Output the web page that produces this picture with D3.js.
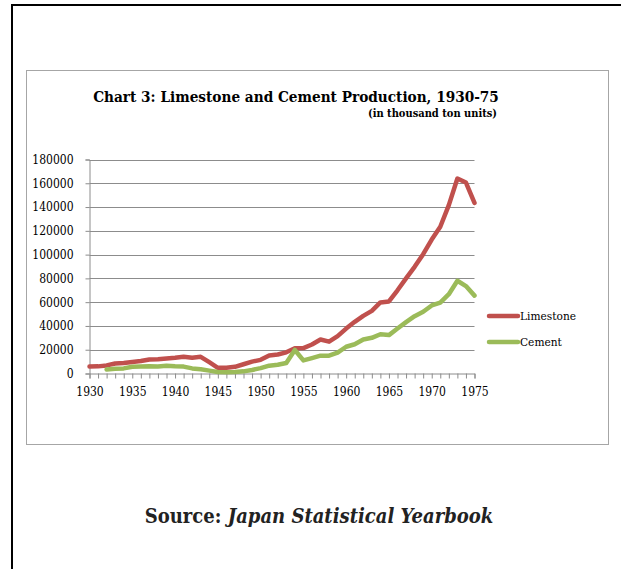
<!DOCTYPE html>
<html>
<head>
<meta charset="utf-8">
<script src="https://cdn.jsdelivr.net/npm/d3@7"></script>
<style>
  html, body { margin: 0; padding: 0; background: #fff; }
  svg { display: block; }
  .serif { font-family: "DejaVu Serif Condensed", "DejaVu Serif", serif; font-stretch: condensed; }
</style>
</head>
<body>
<script>
const years = d3.range(1930, 1976);
const yearLabels = [1930, 1935, 1940, 1945, 1950, 1955, 1960, 1965, 1970, 1975];
const yTicks = [0, 20000, 40000, 60000, 80000, 100000, 120000, 140000, 160000, 180000];
const limestone = [5900, 6000, 6800, 8400, 8800, 9600, 10500, 11800, 12000, 12600,
  13200, 14000, 13200, 14000, 9500, 4800, 4900, 5600, 7800, 10000,
  11500, 15200, 16000, 17800, 21200, 21400, 24400, 28600, 26800, 31400,
  37800, 43500, 48500, 52700, 59800, 60600, 70000, 80000, 89700, 100400,
  112700, 123400, 141600, 164000, 160600, 143500];
const cement = [null, null, 3400, 4000, 4300, 5700, 5800, 6000, 5900, 6600,
  6000, 5800, 4300, 3600, 2400, 1200, 1000, 1200, 1800, 3000,
  4500, 6600, 7300, 8800, 19800, 11000, 13000, 15000, 15000, 17500,
  22500, 24600, 28600, 30000, 33000, 32300, 37800, 43200, 48200, 51900,
  57200, 59700, 66700, 78000, 73500, 65500];
const seriesNames = ["Limestone", "Cement"];
const seriesColors = ["#C0504D", "#9BBB59"];
const titleText = "Chart 3: Limestone and Cement Production, 1930-75";
const subtitleText = "(in thousand ton units)";

const W = 621, H = 569;
const svg = d3.select("body").append("svg").attr("width", W).attr("height", H);

// page border fragments
svg.append("line").attr("x1", 11).attr("x2", W).attr("y1", 5).attr("y2", 5)
  .attr("stroke", "#000").attr("stroke-width", 2);
svg.append("line").attr("x1", 12).attr("x2", 12).attr("y1", 4).attr("y2", H)
  .attr("stroke", "#000").attr("stroke-width", 2);

// chart box
svg.append("rect").attr("x", 26.5).attr("y", 70.5).attr("width", 582).attr("height", 374)
  .attr("fill", "#fff").attr("stroke", "#a6a6a6").attr("stroke-width", 1);

// title
svg.append("text").attr("class", "serif").attr("x", 296).attr("y", 102)
  .attr("text-anchor", "middle").attr("font-weight", "bold").attr("font-size", 15.2)
  .attr("fill", "#000").text(titleText);
svg.append("text").attr("class", "serif").attr("x", 497).attr("y", 117)
  .attr("text-anchor", "end").attr("font-weight", "bold").attr("font-size", 11)
  .attr("fill", "#000").text(subtitleText);

const x = d3.scaleLinear().domain([1930, 1975]).range([89.5, 474.5]);
const y = d3.scaleLinear().domain([0, 180000]).range([373.5, 159.5]);

// gridlines
svg.append("g").selectAll("line").data(yTicks.filter(d => d > 0)).join("line")
  .attr("x1", x(1930)).attr("x2", x(1975))
  .attr("y1", d => Math.round(y(d)) + 0.5).attr("y2", d => Math.round(y(d)) + 0.5)
  .attr("stroke", "#8c8c8c").attr("stroke-width", 1);

// y axis
const yAxis = svg.append("g").attr("transform", `translate(${x(1930)},0)`)
  .call(d3.axisLeft(y).tickValues(yTicks).tickSize(4).tickPadding(12).tickFormat(d3.format("d")));
yAxis.select(".domain").attr("stroke", "#8c8c8c");
yAxis.selectAll(".tick line").attr("stroke", "#8c8c8c");
yAxis.selectAll("text").attr("class", "serif").attr("font-size", 12).attr("fill", "#000");

// x axis
const xAxis = svg.append("g").attr("transform", `translate(0,${y(0)})`)
  .call(d3.axisBottom(x).tickValues(years).tickSize(5).tickPadding(9)
    .tickFormat(d => yearLabels.includes(d) ? d : ""));
xAxis.select(".domain").attr("stroke", "#8c8c8c");
xAxis.selectAll(".tick line").attr("stroke", "#8c8c8c");
xAxis.selectAll("text").attr("class", "serif").attr("font-size", 12).attr("fill", "#000");

// lines
const seriesData = [limestone, cement];
const line = d3.line().defined(d => d[1] !== null).x(d => x(d[0])).y(d => y(d[1]));
seriesData.forEach((vals, i) => {
  svg.append("path").datum(years.map((yr, j) => [yr, vals[j]]))
    .attr("fill", "none").attr("stroke", seriesColors[i]).attr("stroke-width", 4.5)
    .attr("stroke-linejoin", "round").attr("stroke-linecap", "round")
    .attr("d", line);
});

// legend
const lg = svg.append("g");
seriesNames.forEach((n, i) => {
  const ly = 316 + i * 26;
  lg.append("line").attr("x1", 489).attr("x2", 518).attr("y1", ly).attr("y2", ly)
    .attr("stroke", seriesColors[i]).attr("stroke-width", 4.5).attr("stroke-linecap", "round");
  lg.append("text").attr("class", "serif").attr("x", 520).attr("y", ly + 4)
    .attr("font-size", 11.8).attr("fill", "#000").text(n);
});

// source
const src = svg.append("text").attr("class", "serif").attr("x", 319).attr("y", 523)
  .attr("text-anchor", "middle").attr("font-size", 20).attr("font-weight", "bold").attr("fill", "#222");
src.append("tspan").text("Source: ");
src.append("tspan").attr("font-style", "italic").text("Japan Statistical Yearbook");
</script>
</body>
</html>
